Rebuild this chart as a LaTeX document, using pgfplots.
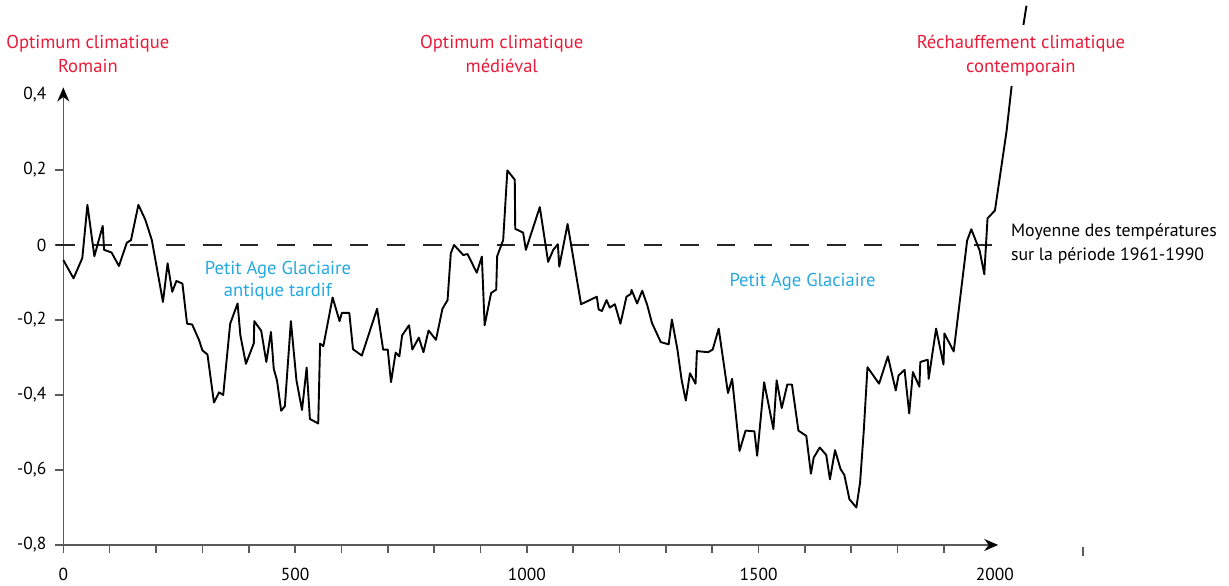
\documentclass[border=0pt]{standalone}
\usepackage{fontspec}
\setmainfont{PT Sans}
\usepackage{pgfplots}
\pgfplotsset{compat=1.18}
\usetikzlibrary{arrows.meta}

\definecolor{optred}{RGB}{232,28,58}
\definecolor{pagblue}{RGB}{38,169,224}
\definecolor{axgray}{RGB}{90,90,90}

\begin{document}
\begin{tikzpicture}
\begin{axis}[
  x=0.23175pt, y=187.5pt,
  xmin=0, xmax=2017, ymin=-0.8, ymax=0.42,
  axis x line=bottom, axis y line=left,
  x axis line style={axgray, line width=0.8pt, -{Stealth[length=7pt,width=6pt,black]}},
  y axis line style={axgray, line width=0.8pt, -{Stealth[length=7pt,width=6pt,black]}},
  clip=false,
  font=\fontsize{8.7}{10}\selectfont,
  tick align=outside,
  tick style={axgray, line width=0.8pt},
  major tick length=4pt,
  xtick={0,100,...,1900},
  xticklabels={0,,,,,500,,,,,1000,,,,,1500,,,,},
  extra x ticks={2010}, extra x tick labels={2000},
  extra x tick style={tick style={draw=none}},
  ytick={-0.8,-0.6,-0.4,-0.2,0,0.2},
  extra y ticks={0.4},
  extra y tick style={tick style={draw=none}},
  xticklabel style={yshift=-4pt},
  yticklabel style={xshift=-1pt},
  /pgf/number format/use comma,
  /pgf/number format/fixed,
  /pgf/number format/precision=1,
  /pgf/number format/assume math mode=true,
]
% reference line: mean 1961-1990
\addplot[black!85, line width=1.15pt, dash pattern=on 9.25pt off 9.1pt]
  coordinates {(-15,0) (2005,0)};

\addplot[black, line width=0.95pt, line join=round] table {
0 -0.040
22 -0.089
41 -0.035
52 0.107
67 -0.030
85 0.051
88 -0.013
104 -0.020
120 -0.056
137 0.006
146 0.013
162 0.107
177 0.067
191 0.013
215 -0.152
225 -0.049
235 -0.125
244 -0.096
257 -0.103
267 -0.210
278 -0.212
293 -0.254
300 -0.281
311 -0.292
325 -0.420
336 -0.393
345 -0.400
360 -0.210
376 -0.156
382 -0.241
394 -0.317
411 -0.262
412 -0.203
427 -0.229
438 -0.312
448 -0.232
454 -0.330
461 -0.361
470 -0.442
478 -0.430
491 -0.203
503 -0.361
515 -0.440
525 -0.327
532 -0.464
550 -0.476
554 -0.263
561 -0.270
581 -0.140
596 -0.203
601 -0.181
617 -0.181
625 -0.278
644 -0.295
677 -0.170
690 -0.279
700 -0.279
707 -0.366
717 -0.287
725 -0.297
731 -0.241
746 -0.214
753 -0.279
767 -0.247
777 -0.286
788 -0.228
804 -0.253
818 -0.170
829 -0.147
836 -0.022
843 0.000
863 -0.027
872 -0.024
892 -0.074
903 -0.031
909 -0.214
923 -0.128
934 -0.119
936 -0.030
949 0.013
958 0.199
974 0.174
975 0.043
992 0.033
998 -0.013
1028 0.101
1046 -0.045
1057 -0.013
1067 0.002
1070 -0.058
1088 0.056
1117 -0.158
1151 -0.138
1155 -0.172
1162 -0.176
1172 -0.147
1179 -0.167
1190 -0.158
1202 -0.210
1215 -0.138
1224 -0.131
1226 -0.120
1238 -0.156
1249 -0.122
1260 -0.161
1270 -0.208
1289 -0.259
1306 -0.265
1313 -0.199
1325 -0.279
1334 -0.360
1343 -0.415
1352 -0.342
1364 -0.370
1367 -0.283
1391 -0.286
1401 -0.279
1414 -0.223
1434 -0.395
1443 -0.357
1459 -0.549
1472 -0.495
1491 -0.497
1497 -0.562
1512 -0.366
1532 -0.491
1539 -0.361
1550 -0.435
1562 -0.372
1572 -0.372
1586 -0.495
1603 -0.509
1613 -0.610
1619 -0.567
1632 -0.540
1646 -0.560
1654 -0.625
1665 -0.547
1677 -0.598
1685 -0.613
1696 -0.678
1711 -0.700
1719 -0.634
1727 -0.495
1735 -0.326
1760 -0.370
1779 -0.297
1796 -0.388
1802 -0.348
1815 -0.333
1825 -0.449
1833 -0.339
1847 -0.378
1849 -0.312
1865 -0.306
1867 -0.357
1883 -0.223
1899 -0.319
1901 -0.236
1921 -0.284
1950 0.012
1959 0.042
1977 -0.015
1987 -0.078
1994 0.071
2010 0.092
2035 0.303
2046 0.424
2070 0.576
2078 0.638
};

% stray tick beyond the arrow
\draw[axgray, line width=0.8pt] ([yshift=-1pt]axis cs:2200,-0.8) -- ([yshift=-5.5pt]axis cs:2200,-0.8);

\node[optred, align=center, font=\fontsize{9.3}{12}\selectfont] at (axis cs:53,0.509) {Optimum climatique\\Romain};
\node[optred, align=center, font=\fontsize{9.3}{12}\selectfont] at (axis cs:946,0.509) {Optimum climatique\\médiéval};
\node[optred, align=center, font=\fontsize{9.3}{12}\selectfont, fill=white, inner xsep=1pt, inner ysep=5pt] at (axis cs:2066,0.505) {Réchauffement climatique\\contemporain};
\node[black, align=left, anchor=west, inner xsep=0pt, font=\fontsize{8.9}{12}\selectfont] at (axis cs:2044,0.003) {Moyenne des températures\\sur la période 1961-1990};
\node[pagblue, align=center, font=\fontsize{9.3}{11}\selectfont] at (axis cs:463,-0.096) {Petit Age Glaciaire\\antique tardif};
\node[pagblue, font=\fontsize{9.3}{11}\selectfont] at (axis cs:1595,-0.099) {Petit Age Glaciaire};

\coordinate (bbsw) at (axis cs:-136.6,-0.9093);
\coordinate (bbne) at (axis cs:2515,0.6533);
\end{axis}
\pgfresetboundingbox
\useasboundingbox (bbsw) rectangle (bbne);
\end{tikzpicture}
\end{document}
